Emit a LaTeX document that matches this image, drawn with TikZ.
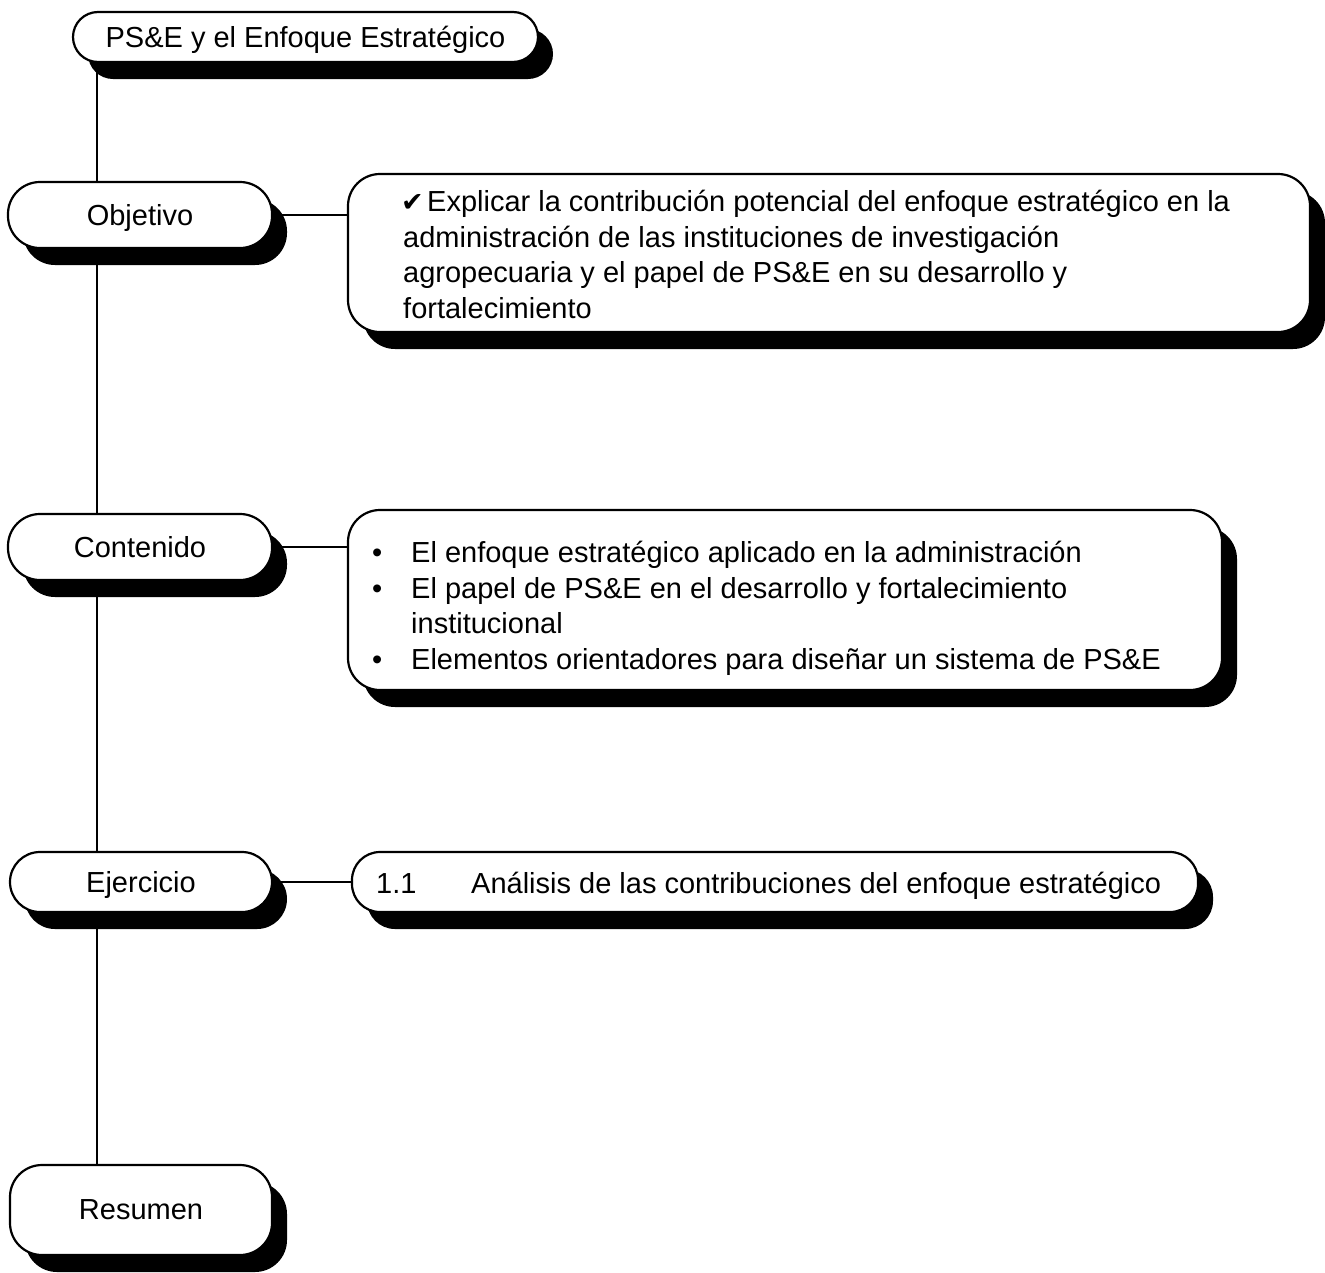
\documentclass[tikz,border=0pt]{standalone}
\usepackage{fontspec}
\setmainfont{Liberation Sans}
\newfontfamily\symfont{DejaVu Sans}
\usetikzlibrary{shadows,backgrounds}

\begin{document}
\begin{tikzpicture}[x=1pt,y=-1pt,
  txt/.style={font=\fontsize{29}{35.5}\selectfont},
  shadowbox/.style={draw,line width=2.2pt,fill=white,rounded corners=#1,
    drop shadow={shadow xshift=15pt,shadow yshift=-17pt,opacity=1,fill=black}},
  tag/.style={shadowbox=32pt,txt,inner sep=0pt,text depth=0pt},
  panel/.style={shadowbox=32pt,inner sep=0pt},
  body/.style={txt,anchor=north west,inner sep=0pt,align=left},
  link/.style={line width=2.2pt}]
\useasboundingbox (0,0) rectangle (1325,1272);

% headings on the left
\node[tag,minimum width=465,minimum height=50,rounded corners=25pt] (title) at (305.5,37) {PS\&E y el Enfoque Estratégico};
\node[tag,minimum width=264,minimum height=66] (obj) at (140,215) {Objetivo};
\node[tag,minimum width=264,minimum height=66] (cont) at (140,547) {Contenido};
\node[tag,minimum width=262,minimum height=60,rounded corners=30pt] (ejer) at (141,882) {Ejercicio};
\node[tag,minimum width=262,minimum height=90] (res) at (141,1210) {Resumen};

% panels on the right
\node[panel,minimum width=962,minimum height=158] (objbox) at (829,253) {};
\node[panel,minimum width=874,minimum height=180] (contbox) at (785,600) {};
\node[panel,minimum width=846,minimum height=60,rounded corners=28pt] (ejerbox) at (775,882) {};

\node[body] (objtext) at (401,190) {\makebox[26pt][l]{\fontsize{27}{27}\symfont ✔}Explicar la contribución potencial del enfoque estratégico en la\\
\hspace*{2pt}administración de las instituciones de investigación\\
\hspace*{2pt}agropecuaria y el papel de PS\&E en su desarrollo y\\
\hspace*{2pt}fortalecimiento};

\node[body] (conttext) at (372,541) {\makebox[39pt][l]{•}El enfoque estratégico aplicado en la administración\\
\makebox[39pt][l]{•}El papel de PS\&E en el desarrollo y fortalecimiento\\
\hspace*{39pt}institucional\\
\makebox[39pt][l]{•}Elementos orientadores para diseñar un sistema de PS\&E};

\node[body] (ejertext) at (376,872) {\makebox[95pt][l]{1.1}Análisis de las contribuciones del enfoque estratégico};

% trunk and branches
\coordinate (trunk) at (97,0);
\begin{scope}[on background layer]
  \draw[link] (trunk |- title.south) -- (trunk |- res.north);
  \draw[link] (obj.east) -- (obj.east -| objbox.west);
  \draw[link] (cont.east) -- (cont.east -| contbox.west);
  \draw[link] (ejer.east) -- (ejer.east -| ejerbox.west);
\end{scope}
\end{tikzpicture}
\end{document}
